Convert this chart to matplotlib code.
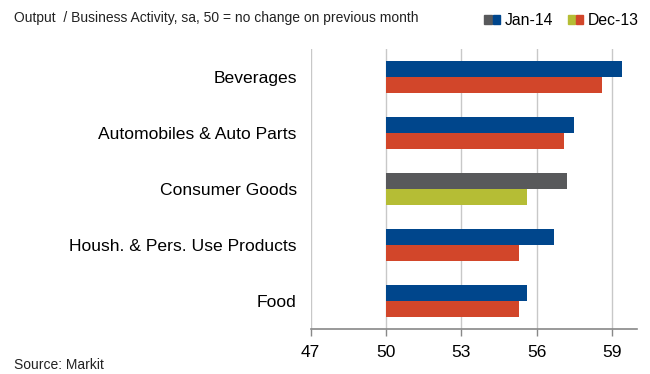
import matplotlib.pyplot as plt
import numpy as np
from matplotlib.patches import Patch
from matplotlib.legend_handler import HandlerTuple

plt.rcParams['font.family'] = ['Liberation Sans', 'DejaVu Sans']

categories = ['Beverages', 'Automobiles & Auto Parts', 'Consumer Goods',
              'Housh. & Pers. Use Products', 'Food']
jan14 = [59.4, 57.5, 57.2, 56.7, 55.6]
dec13 = [58.6, 57.1, 55.6, 55.3, 55.3]
baseline = 50
xticks = [47, 50, 53, 56, 59]

blue = '#00468c'
red = '#d2462a'
grey = '#58595b'
olive = '#b5bd35'
highlight = 'Consumer Goods'

jan_colors = [grey if c == highlight else blue for c in categories]
dec_colors = [olive if c == highlight else red for c in categories]

fig = plt.figure(figsize=(6.5, 3.74), dpi=100)
ax = fig.add_axes([0.478, 0.1195, 0.502, 0.7505])

y = np.arange(len(categories))
h = 0.286
ax.barh(y - h / 2, np.array(jan14) - baseline, h, left=baseline,
        color=jan_colors, zorder=3)
ax.barh(y + h / 2, np.array(dec13) - baseline, h, left=baseline,
        color=dec_colors, zorder=3)

ax.set_xlim(47, 60)
ax.set_ylim(len(categories) - 0.5, -0.5)
ax.set_xticks(xticks)
ax.set_xticklabels([str(t) for t in xticks], fontsize=12.5)
ax.set_yticks(y)
ax.set_yticklabels(categories, fontsize=12.6)
ax.tick_params(axis='y', length=0, pad=10)
ax.tick_params(axis='x', direction='out', length=5, width=1,
               color='#888888', pad=6)
ax.grid(axis='x', color='#c8c8c8', linewidth=1, zorder=0)
for s in ['top', 'right', 'left']:
    ax.spines[s].set_visible(False)
ax.spines['bottom'].set_color('#888888')
ax.spines['bottom'].set_linewidth(1.2)

fig.text(0.021, 0.951, 'Output  / Business Activity, sa, 50 = no change on previous month',
         fontsize=10, color='#222222', va='center', ha='left')
fig.text(0.021, 0.005, 'Source: Markit', fontsize=10, color='#222222',
         va='bottom', ha='left')

handles = [(Patch(color=grey), Patch(color=blue)),
           (Patch(color=olive), Patch(color=red))]
fig.legend(handles, ['Jan-14', 'Dec-13'], loc='center right',
           bbox_to_anchor=(0.995, 0.946), ncol=2, frameon=False,
           fontsize=11.3, handlelength=1.0, handleheight=0.5,
           handletextpad=0.3, columnspacing=0.9, borderpad=0,
           handler_map={tuple: HandlerTuple(ndivide=None, pad=0.1)})

fig.savefig('out.png', dpi=100)
